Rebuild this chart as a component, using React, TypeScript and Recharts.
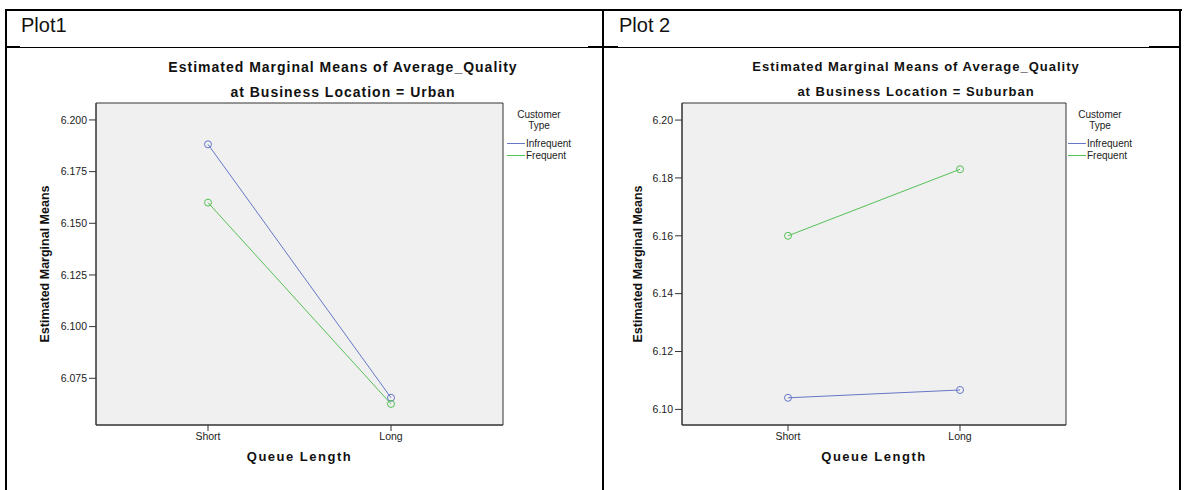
import React from 'react';
import { LineChart, Line, XAxis, YAxis, CartesianGrid, Legend, Label } from 'recharts';

const QUEUE_LENGTHS = ['Short', 'Long'];
const CUSTOMER_TYPES = ['Infrequent', 'Frequent'];

// Business Location = Urban
const URBAN_INFREQUENT = [6.1882, 6.0656];
const URBAN_FREQUENT = [6.16, 6.0626];
const URBAN_TICKS = [6.075, 6.1, 6.125, 6.15, 6.175, 6.2];
const URBAN_DOMAIN: [number, number] = [6.0524, 6.2082];

// Business Location = Suburban
const SUBURBAN_INFREQUENT = [6.104, 6.1067];
const SUBURBAN_FREQUENT = [6.16, 6.183];
const SUBURBAN_TICKS = [6.1, 6.12, 6.14, 6.16, 6.18, 6.2];
const SUBURBAN_DOMAIN: [number, number] = [6.0946, 6.2059];

const SERIES_COLORS: Record<string, string> = {
  Infrequent: '#6677c8',
  Frequent: '#55c055',
};

const FONT = "'Liberation Sans', Arial, Helvetica, sans-serif";
const AXIS_COLOR = '#333';

function buildRows(infrequent: number[], frequent: number[]) {
  return QUEUE_LENGTHS.map((queue, i) => ({
    queue,
    Infrequent: infrequent[i],
    Frequent: frequent[i],
  }));
}

function CustomerLegend({ payload }: any) {
  // keep series order rather than the legend's alphabetical default
  const items = [...(payload || [])].sort(
    (a: any, b: any) => CUSTOMER_TYPES.indexOf(a.value) - CUSTOMER_TYPES.indexOf(b.value),
  );
  return (
    <div style={{ fontFamily: FONT, fontSize: 10, color: '#222', lineHeight: '11px' }}>
      <div style={{ textAlign: 'center', width: 66 }}>Customer</div>
      <div style={{ textAlign: 'center', width: 66, marginBottom: 6 }}>Type</div>
      {items.map((entry: any) => (
        <div key={entry.value} style={{ display: 'flex', alignItems: 'center', height: 12 }}>
          <svg width={19} height={12} style={{ display: 'block' }}>
            <line x1={1} y1={6.5} x2={19} y2={6.5} stroke={SERIES_COLORS[entry.value]} strokeWidth={1} />
          </svg>
          <span style={{ marginLeft: 1 }}>{entry.value}</span>
        </div>
      ))}
    </div>
  );
}

interface PlotProps {
  rows: { queue: string; Infrequent: number; Frequent: number }[];
  ticks: number[];
  domain: [number, number];
  decimals: number;
  width: number;
  marginLeft: number;
  marginRight: number;
  yAxisWidth: number;
  xPadding: number;
  yLabelDx: number;
  legendLeft: number;
}

function MeansPlot(p: PlotProps) {
  return (
    <LineChart
      width={p.width}
      height={490}
      data={p.rows}
      margin={{ top: 103, right: p.marginRight, bottom: 25, left: p.marginLeft }}
    >
      {/* grey plot background with a frame on all four sides */}
      <CartesianGrid
        fill="#f0f0f0"
        stroke={AXIS_COLOR}
        horizontalCoordinatesGenerator={({ offset }: any) => [offset.top, offset.top + offset.height]}
        verticalCoordinatesGenerator={({ offset }: any) => [offset.left, offset.left + offset.width]}
      />
      <XAxis
        dataKey="queue"
        interval={0}
        height={40}
        tickSize={6}
        padding={{ left: p.xPadding, right: p.xPadding }}
        axisLine={{ stroke: AXIS_COLOR }}
        tickLine={{ stroke: AXIS_COLOR }}
        tick={{ fontSize: 10.5, fill: '#222', fontFamily: FONT }}
      >
        <Label
          value="Queue Length"
          position="insideBottom"
          offset={4}
          fill="#111"
          fontSize={13}
          fontWeight="bold"
          fontFamily={FONT}
          letterSpacing={1.5}
          style={{ letterSpacing: '1.5px' }}
        />
      </XAxis>
      <YAxis
        type="number"
        domain={p.domain}
        ticks={p.ticks}
        allowDataOverflow
        width={p.yAxisWidth}
        tickSize={7}
        tickFormatter={(v: number) => v.toFixed(p.decimals)}
        axisLine={{ stroke: AXIS_COLOR }}
        tickLine={{ stroke: AXIS_COLOR }}
        tick={{ fontSize: 10.5, fill: '#222', fontFamily: FONT }}
      >
        <Label
          value="Estimated Marginal Means"
          angle={-90}
          position="center"
          dx={p.yLabelDx}
          fill="#111"
          fontSize={12.5}
          fontWeight="bold"
          fontFamily={FONT}
        />
      </YAxis>
      <Legend
        layout="vertical"
        align="right"
        verticalAlign="top"
        wrapperStyle={{ left: p.legendLeft, top: 109, width: 74 }}
        content={<CustomerLegend />}
      />
      {CUSTOMER_TYPES.map((type) => (
        <Line
          key={type}
          dataKey={type}
          type="linear"
          stroke={SERIES_COLORS[type]}
          strokeWidth={1}
          dot={{ r: 3.5, fill: 'none', stroke: SERIES_COLORS[type], strokeWidth: 1 }}
          activeDot={false}
          isAnimationActive={false}
        />
      ))}
    </LineChart>
  );
}

const titleStyle = (center: number, top: number, size: number): React.CSSProperties => ({
  position: 'absolute',
  left: center - 250,
  top,
  width: 500,
  textAlign: 'center',
  fontFamily: FONT,
  fontWeight: 'bold',
  fontSize: size,
  lineHeight: '16px',
  letterSpacing: '1px',
  color: '#111',
});

const rule = (left: number, top: number, width: number, height: number): React.CSSProperties => ({
  position: 'absolute',
  left,
  top,
  width,
  height,
  background: '#000',
});

export default function App() {
  const urbanRows = buildRows(URBAN_INFREQUENT, URBAN_FREQUENT);
  const suburbanRows = buildRows(SUBURBAN_INFREQUENT, SUBURBAN_FREQUENT);

  return (
    <div
      style={{
        position: 'absolute',
        left: 0,
        top: 0,
        width: 1192,
        height: 490,
        background: '#fff',
        overflow: 'hidden',
      }}
    >
      <div style={{ position: 'absolute', left: 0, top: 0 }}>
        <MeansPlot
          rows={urbanRows}
          ticks={URBAN_TICKS}
          domain={URBAN_DOMAIN}
          decimals={3}
          width={600}
          marginLeft={36}
          marginRight={23}
          yAxisWidth={60}
          xPadding={112}
          yLabelDx={-21}
          legendLeft={506}
        />
      </div>
      <div style={{ position: 'absolute', left: 600, top: 0 }}>
        <MeansPlot
          rows={suburbanRows}
          ticks={SUBURBAN_TICKS}
          domain={SUBURBAN_DOMAIN}
          decimals={2}
          width={592}
          marginLeft={26}
          marginRight={52}
          yAxisWidth={56}
          xPadding={106}
          yLabelDx={-16}
          legendLeft={467}
        />
      </div>

      <div style={titleStyle(343, 59, 14)}>Estimated Marginal Means of Average_Quality</div>
      <div style={titleStyle(343, 84, 14)}>at Business Location = Urban</div>
      <div style={titleStyle(916, 59, 13)}>Estimated Marginal Means of Average_Quality</div>
      <div style={titleStyle(916, 84, 13)}>at Business Location = Suburban</div>

      <div style={{ position: 'absolute', left: 21, top: 14, fontFamily: FONT, fontSize: 20, color: '#111' }}>Plot1</div>
      <div style={{ position: 'absolute', left: 619, top: 14, fontFamily: FONT, fontSize: 20, color: '#111' }}>Plot 2</div>

      {/* table rules */}
      <div style={rule(5, 9, 1177, 2)} />
      <div style={rule(5, 9, 2, 481)} />
      <div style={rule(602, 9, 2, 481)} />
      <div style={rule(1179, 9, 2, 481)} />
      <div style={rule(5, 47, 1176, 1)} />
      <div style={rule(5, 46, 15, 2)} />
      <div style={rule(588, 46, 30, 2)} />
      <div style={rule(1149, 46, 32, 2)} />
    </div>
  );
}
